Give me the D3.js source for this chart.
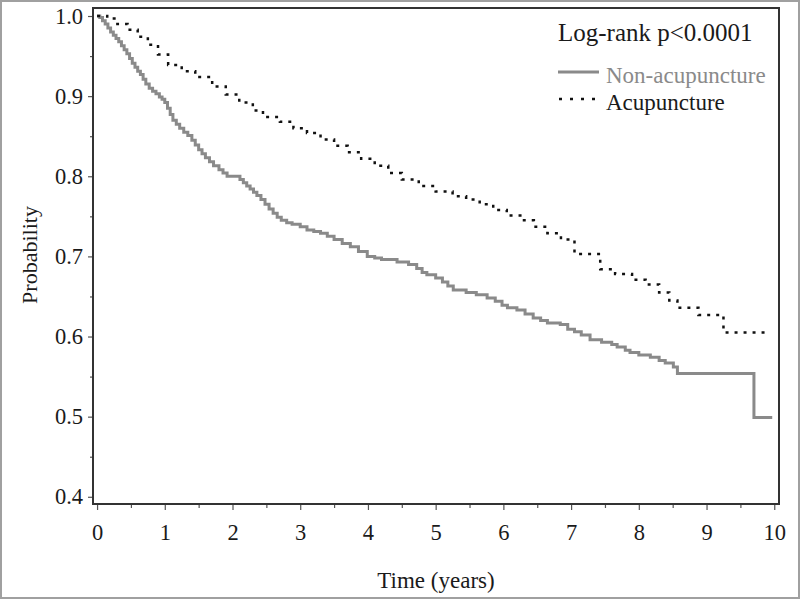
<!DOCTYPE html>
<html>
<head>
<meta charset="utf-8">
<script src="https://cdn.jsdelivr.net/npm/d3@7"></script>
<style>
  body { margin: 0; background: #fff; }
  svg { display: block; font-family: "Liberation Serif", "Times New Roman", serif; }
</style>
</head>
<body>
<div class="km"></div>
<script>
// Kaplan-Meier curves, values
const nonTimes = [
    0, 0.04, 0.08, 0.12, 0.16, 0.2, 0.24, 0.28, 0.32, 0.36,
    0.4, 0.44, 0.48, 0.52, 0.56, 0.6, 0.64, 0.68, 0.72, 0.77,
    0.82, 0.87, 0.92, 0.96, 1.0, 1.04, 1.08, 1.12, 1.17, 1.22,
    1.28, 1.34, 1.4, 1.45, 1.5, 1.55, 1.6, 1.66, 1.72, 1.8,
    1.86, 1.92, 2.11, 2.16, 2.21, 2.26, 2.31, 2.36, 2.42, 2.48,
    2.54, 2.6, 2.66, 2.72, 2.8, 2.88, 3.0,
    3.1, 3.2, 3.3, 3.4, 3.5, 3.62, 3.74, 3.86, 3.99, 4.1,
    4.2, 4.43, 4.6, 4.72, 4.8, 4.87, 5.0, 5.1, 5.18, 5.26,
    5.45, 5.6, 5.76, 5.88, 5.98, 6.06, 6.2, 6.32, 6.44, 6.55,
    6.65, 6.84, 6.95, 7.05, 7.15, 7.28, 7.45, 7.6, 7.68, 7.8,
    7.87, 8.0, 8.17, 8.3, 8.39, 8.51, 8.57, 9.7, 9.97]
const nonProb = [
    1.0, 0.998, 0.994, 0.99, 0.985, 0.98, 0.976, 0.972, 0.968, 0.963,
    0.958, 0.953, 0.947, 0.941, 0.936, 0.931, 0.927, 0.921, 0.915, 0.91,
    0.906, 0.903, 0.899, 0.896, 0.892, 0.885, 0.877, 0.87, 0.865, 0.86,
    0.855, 0.851, 0.845, 0.839, 0.833, 0.828, 0.823, 0.818, 0.813, 0.808,
    0.804, 0.80, 0.796, 0.792, 0.788, 0.784, 0.78, 0.776, 0.771, 0.765,
    0.759, 0.754, 0.749, 0.745, 0.742, 0.74, 0.737,
    0.733, 0.731, 0.729, 0.725, 0.721, 0.716, 0.712, 0.706, 0.70, 0.698,
    0.696, 0.693, 0.69, 0.685, 0.68, 0.677, 0.673, 0.668, 0.663, 0.658,
    0.655, 0.652, 0.648, 0.644, 0.639, 0.636, 0.633, 0.628, 0.623, 0.62,
    0.617, 0.615, 0.609, 0.606, 0.602, 0.596, 0.593, 0.59, 0.587, 0.583,
    0.58, 0.577, 0.574, 0.57, 0.567, 0.562, 0.554, 0.499, 0.499]

const acuTimes = [0, 0.15, 0.3, 0.45, 0.6, 0.75, 0.9, 1.05, 1.25, 1.45, 1.7, 1.9, 2.1, 2.3, 2.45, 2.7, 2.9, 3.1, 3.3, 3.5, 3.7, 3.9, 4.1, 4.3, 4.5, 4.75, 5.0, 5.25, 5.45, 5.65, 5.85, 6.05, 6.25, 6.45, 6.65, 6.85, 7.05, 7.43, 7.65, 7.9, 8.1, 8.3, 8.45, 8.57, 8.88, 9.25, 9.87]
const acuProb = [1.0, 0.997, 0.99, 0.983, 0.974, 0.964, 0.952, 0.939, 0.931, 0.924, 0.912, 0.902, 0.892, 0.882, 0.874, 0.868, 0.86, 0.854, 0.846, 0.838, 0.83, 0.822, 0.813, 0.804, 0.796, 0.788, 0.781, 0.775, 0.771, 0.765, 0.758, 0.751, 0.745, 0.737, 0.729, 0.721, 0.703, 0.684, 0.678, 0.671, 0.665, 0.655, 0.645, 0.636, 0.627, 0.605, 0.605]

const xTicks = [0, 1, 2, 3, 4, 5, 6, 7, 8, 9, 10]
const yTicks = [0.4, 0.5, 0.6, 0.7, 0.8, 0.9, 1.0]
const seriesNames = ["Non-acupuncture", "Acupuncture"]
const pValueText = "Log-rank p<0.0001"

let width = 800
let height = 599
let plotLeft = 93, plotTop = 8, plotRight = 779, plotBottom = 504

let svg = d3.select(".km")
    .append("svg")
    .attr("width", width)
    .attr("height", height)

// outer gray border of the figure
svg.append("rect")
    .attr("x", 1).attr("y", 1)
    .attr("width", width - 2).attr("height", height - 2)
    .attr("fill", "#fff")
    .attr("stroke", "#a0a0a0")
    .attr("stroke-width", 2)

let x = d3.scaleLinear().domain([-0.06, 10.07]).range([plotLeft, plotRight])
let y = d3.scaleLinear().domain([0.391, 1.01]).range([plotBottom, plotTop])

// minor ticks (every half step)
let xMinor = xTicks.slice(0, -1).map(d => d + 0.5)
let yMinor = yTicks.slice(0, -1).map(d => d + 0.05)

svg.append("g")
    .attr("transform", "translate(0," + plotBottom + ")")
    .call(d3.axisBottom(x).tickValues(xTicks).tickSize(6).tickPadding(14).tickFormat(d3.format("d")))
svg.append("g")
    .attr("transform", "translate(0," + plotBottom + ")")
    .call(d3.axisBottom(x).tickValues(xMinor).tickSize(4).tickFormat(""))

svg.append("g")
    .attr("transform", "translate(" + plotLeft + ",0)")
    .call(d3.axisLeft(y).tickValues(yTicks).tickSize(5).tickPadding(5).tickFormat(d3.format(".1f")))
svg.append("g")
    .attr("transform", "translate(" + plotLeft + ",0)")
    .call(d3.axisLeft(y).tickValues(yMinor).tickSize(3).tickFormat(""))

svg.selectAll(".domain").remove()
svg.selectAll(".tick line").attr("stroke", "#555").attr("stroke-width", 1.2)
svg.selectAll(".tick text")
    .style("font-family", "Liberation Serif")
    .style("font-size", "22.5px")
    .attr("fill", "#1a1a1a")

// frame
svg.append("rect")
    .attr("x", plotLeft).attr("y", plotTop)
    .attr("width", plotRight - plotLeft).attr("height", plotBottom - plotTop)
    .attr("fill", "none")
    .attr("stroke", "#333")
    .attr("stroke-width", 2)

let line = d3.line()
    .x(d => x(d[0]))
    .y(d => y(d[1]))
    .curve(d3.curveStepAfter)

svg.append("path")
    .datum(nonTimes.map((t, i) => [t, nonProb[i]]))
    .attr("d", line)
    .attr("fill", "none")
    .attr("stroke", "#8a8a8a")
    .attr("stroke-width", 3)

svg.append("path")
    .datum(acuTimes.map((t, i) => [t, acuProb[i]]))
    .attr("d", line)
    .attr("fill", "none")
    .attr("stroke", "#111")
    .attr("stroke-width", 2.5)
    .attr("stroke-dasharray", "3,6")

// axis titles
svg.append("text")
    .attr("x", 436)
    .attr("y", 588)
    .attr("text-anchor", "middle")
    .style("font-size", "23px")
    .attr("fill", "#1a1a1a")
    .text("Time (years)")

svg.append("text")
    .attr("transform", "translate(37," + 255 + ") rotate(-90)")
    .attr("text-anchor", "middle")
    .style("font-size", "22px")
    .attr("fill", "#1a1a1a")
    .text("Probability")

// legend
svg.append("text")
    .attr("x", 558).attr("y", 41)
    .style("font-size", "25px")
    .attr("fill", "#1a1a1a")
    .text(pValueText)

let legend = svg.append("g")
legend.append("line")
    .attr("x1", 558).attr("x2", 599).attr("y1", 72).attr("y2", 72)
    .attr("stroke", "#8a8a8a").attr("stroke-width", 3)
legend.append("text")
    .attr("x", 606).attr("y", 83)
    .style("font-size", "23px")
    .attr("fill", "#8a8a8a")
    .text(seriesNames[0])
legend.append("line")
    .attr("x1", 559).attr("x2", 599).attr("y1", 99).attr("y2", 99)
    .attr("stroke", "#111").attr("stroke-width", 2.5)
    .attr("stroke-dasharray", "3,8")
legend.append("text")
    .attr("x", 606).attr("y", 110)
    .style("font-size", "23px")
    .attr("fill", "#1a1a1a")
    .text(seriesNames[1])
</script>
</body>
</html>
